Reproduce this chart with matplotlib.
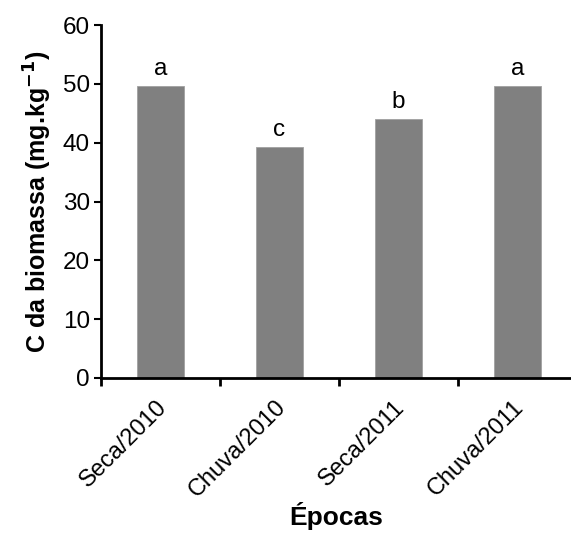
import matplotlib.pyplot as plt
import matplotlib.transforms as mtransforms
import numpy as np

plt.rcParams['font.family'] = ['Liberation Sans', 'DejaVu Sans']

epocas = ['Seca/2010', 'Chuva/2010', 'Seca/2011', 'Chuva/2011']
c_biomassa = [49.7, 39.2, 44.0, 49.7]
letras = ['a', 'c', 'b', 'a']

fig = plt.figure(figsize=(5.71, 5.33), dpi=100)
ax = fig.add_axes([101 / 571, 1 - 378 / 533, 470 / 571, 353 / 533])

x = np.arange(len(epocas))
ax.bar(x, c_biomassa, width=0.4, color='#808080', edgecolor='#a0a0a0', linewidth=0.6)

# letras de significancia
for xi, v, l in zip(x, c_biomassa, letras):
    ax.text(xi, v + 1.0, l, ha='center', va='bottom', fontsize=17.5)

ax.set_ylim(0, 60)
ax.set_xlim(-0.5, 3.45)
ax.set_yticks(range(0, 61, 10))
ax.tick_params(axis='y', labelsize=17.5, direction='out', length=5, width=1.5, pad=3)

# ticks entre categorias, rotulos no centro
ax.set_xticks(x)
ax.set_xticklabels(epocas, rotation=45, ha='right', rotation_mode='anchor', fontsize=17)
ax.tick_params(axis='x', which='major', length=0, pad=13)
ax.set_xticks(np.arange(-0.5, 3.0, 1.0), minor=True)
ax.tick_params(axis='x', which='minor', direction='out', length=6, width=2)

offset = mtransforms.ScaledTranslation(-5 / 100, 0, fig.dpi_scale_trans)
for lab in ax.get_xticklabels():
    lab.set_transform(lab.get_transform() + offset)

for s in ['top', 'right']:
    ax.spines[s].set_visible(False)
for s in ['left', 'bottom']:
    ax.spines[s].set_linewidth(2)

ax.set_ylabel('C da biomassa (mg.kg$^{\\mathbf{-1}}$)', fontsize=18, fontweight='bold', labelpad=6)
ax.set_xlabel('Épocas', fontsize=19, fontweight='bold', labelpad=0)

fig.savefig('out.png', dpi=100)
